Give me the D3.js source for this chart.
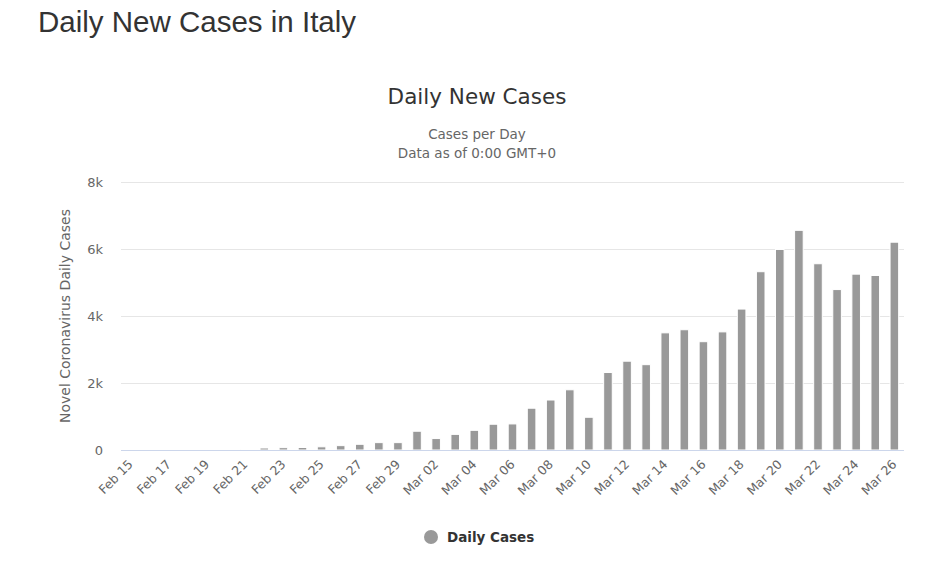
<!DOCTYPE html>
<html>
<head>
<meta charset="utf-8">
<script src="https://cdn.jsdelivr.net/npm/d3@7"></script>
<style>
  body { margin: 0; background: #fff; }
  h1 { font-family: "Liberation Sans", Arial, sans-serif; font-weight: normal; font-size: 29.5px; color: #333; margin: 0; position: absolute; left: 38px; top: 5px; }
</style>
</head>
<body>
<h1>Daily New Cases in Italy</h1>
<div id="chart"></div>
<script>
// days shown on the x axis
const days = [
  "Feb 15", "Feb 16", "Feb 17", "Feb 18", "Feb 19", "Feb 20", "Feb 21", "Feb 22",
  "Feb 23", "Feb 24", "Feb 25", "Feb 26", "Feb 27", "Feb 28", "Feb 29",
  "Mar 01", "Mar 02", "Mar 03", "Mar 04", "Mar 05", "Mar 06", "Mar 07", "Mar 08",
  "Mar 09", "Mar 10", "Mar 11", "Mar 12", "Mar 13", "Mar 14", "Mar 15", "Mar 16",
  "Mar 17", "Mar 18", "Mar 19", "Mar 20", "Mar 21", "Mar 22", "Mar 23", "Mar 24",
  "Mar 25", "Mar 26"
];
// daily new cases
const dailyCases = [
  0, 0, 0, 0, 0, 0, 17, 60,
  70, 75, 95, 130, 170, 220, 220,
  560, 342, 466, 587, 769, 778, 1247, 1492,
  1797, 977, 2313, 2651, 2547, 3497, 3590, 3233,
  3526, 4207, 5322, 5986, 6557, 5560, 4789, 5249,
  5210, 6203
];
const yTicks = [0, 2000, 4000, 6000, 8000];

const width = 925;
const height = 582;
const margin = { top: 182, left: 121, bottom: 132, right: 21 };
const iwidth = width - margin.left - margin.right;
const iheight = height - margin.top - margin.bottom;
const chartFont = "'DejaVu Sans', Verdana, sans-serif";

const svg = d3.select("#chart").append("svg")
  .attr("width", width)
  .attr("height", height)
  .style("position", "absolute")
  .style("left", 0)
  .style("top", 0)
  .style("font-family", chartFont);

svg.append("text")
  .attr("x", 477).attr("y", 104)
  .attr("text-anchor", "middle")
  .attr("font-size", 21.5).attr("fill", "#333")
  .text("Daily New Cases");

svg.append("text")
  .attr("x", 477).attr("y", 139)
  .attr("text-anchor", "middle")
  .attr("font-size", 13.5).attr("fill", "#666")
  .text("Cases per Day");

svg.append("text")
  .attr("x", 477).attr("y", 158)
  .attr("text-anchor", "middle")
  .attr("font-size", 13.5).attr("fill", "#666")
  .text("Data as of 0:00 GMT+0");

const g = svg.append("g")
  .attr("transform", `translate(${margin.left},${margin.top})`);

const y = d3.scaleLinear().domain([0, 8000]).range([iheight, 0]);
const x = d3.scaleBand().domain(days).range([0, iwidth]).paddingInner(0.55).paddingOuter(0.28);

// grid
g.append("g")
  .selectAll("line")
  .data(yTicks.slice(1))
  .join("line")
  .attr("x1", 0).attr("x2", iwidth)
  .attr("y1", (d) => Math.round(y(d)) + 0.5)
  .attr("y2", (d) => Math.round(y(d)) + 0.5)
  .attr("stroke", "#e6e6e6");

// y axis labels
const yAxis = g.append("g")
  .call(d3.axisLeft(y).tickValues(yTicks).tickSize(0).tickPadding(18)
    .tickFormat((d) => (d === 0 ? "0" : d / 1000 + "k")));
yAxis.select(".domain").remove();
yAxis.selectAll("text")
  .attr("font-family", chartFont)
  .attr("font-size", 13)
  .attr("fill", "#666");

svg.append("text")
  .attr("transform", `translate(70,${margin.top + iheight / 2}) rotate(-90)`)
  .attr("text-anchor", "middle")
  .attr("font-size", 14).attr("fill", "#666")
  .text("Novel Coronavirus Daily Cases");

// bars
g.append("g")
  .selectAll("rect")
  .data(days.map((d, i) => ({ day: d, value: dailyCases[i] })))
  .join("rect")
  .attr("x", (d) => x(d.day))
  .attr("y", (d) => y(d.value))
  .attr("width", x.bandwidth())
  .attr("height", (d) => iheight - y(d.value))
  .attr("fill", "#999")
  .attr("stroke", "#fff")
  .attr("stroke-width", 1);

// x axis
g.append("line")
  .attr("x1", 0).attr("x2", iwidth)
  .attr("y1", iheight + 0.5).attr("y2", iheight + 0.5)
  .attr("stroke", "#ccd6eb");

const xLabels = days.filter((d, i) => i % 2 === 0);
g.append("g")
  .selectAll("text")
  .data(xLabels)
  .join("text")
  .attr("transform", (d) => `translate(${x(d) + x.bandwidth() / 2},${iheight + 12}) rotate(-45)`)
  .attr("text-anchor", "end")
  .attr("dy", "0.35em")
  .attr("font-size", 12.5)
  .attr("fill", "#666")
  .text((d) => d);

// legend
const legend = svg.append("g").attr("transform", "translate(431,537)");
legend.append("circle").attr("r", 7).attr("fill", "#999");
legend.append("text")
  .attr("x", 16).attr("dy", "0.35em")
  .attr("font-size", 13.5).attr("font-weight", "bold").attr("fill", "#333")
  .text("Daily Cases");
</script>
</body>
</html>
